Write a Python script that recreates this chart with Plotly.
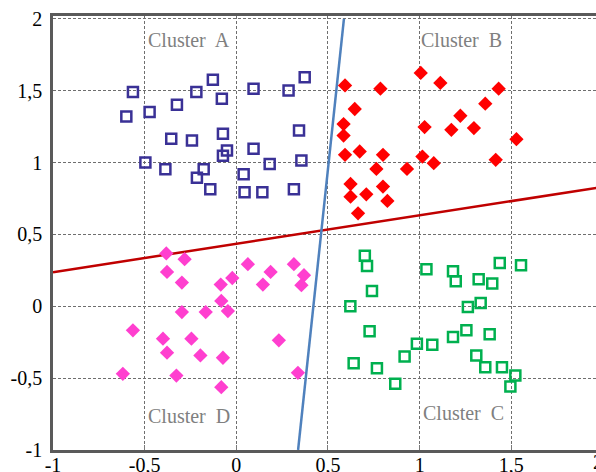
import plotly.graph_objects as go

# Cluster A (open squares, blue)
a_x = [-0.564, -0.600, -0.473, -0.324, -0.218, -0.128, -0.079, 0.094, 0.285, 0.373,
       -0.355, -0.242, -0.073, -0.051, -0.073, 0.094, 0.342, 0.355, 0.182, -0.496,
       -0.387, -0.178, -0.215, -0.142, 0.040, 0.045, 0.142, 0.314]
a_y = [1.491, 1.321, 1.352, 1.403, 1.491, 1.577, 1.445, 1.514, 1.502, 1.593,
       1.165, 1.154, 1.200, 1.084, 1.047, 1.096, 1.223, 1.014, 0.991, 1.000,
       0.954, 0.954, 0.895, 0.814, 0.919, 0.793, 0.793, 0.814]

# Cluster B (filled diamonds, red)
b_x = [0.593, 0.786, 1.006, 1.113, 1.431, 0.646, 1.358, 1.222, 0.585, 0.585,
       1.027, 1.173, 1.296, 1.528, 0.593, 0.673, 0.800, 1.015, 1.077, 1.415,
       0.764, 0.931, 0.623, 0.800, 0.623, 0.709, 0.824, 0.664]
b_y = [1.537, 1.514, 1.624, 1.554, 1.514, 1.373, 1.410, 1.326, 1.268, 1.188,
       1.247, 1.228, 1.240, 1.163, 1.054, 1.077, 1.054, 1.042, 0.996, 1.019,
       0.956, 0.956, 0.851, 0.833, 0.763, 0.779, 0.733, 0.647]

# Cluster C (open squares, green)
c_x = [0.701, 0.713, 1.037, 1.182, 1.197, 1.322, 1.396, 1.437, 1.553, 0.740,
       0.622, 1.263, 1.333, 0.727, 1.255, 1.182, 1.382, 0.985, 1.069, 0.918,
       1.309, 0.640, 0.767, 1.358, 1.449, 1.522, 0.867, 1.495]
c_y = [0.351, 0.281, 0.258, 0.244, 0.174, 0.188, 0.158, 0.302, 0.286, 0.107,
       0.000, -0.005, 0.023, -0.174, -0.167, -0.214, -0.195, -0.260, -0.267, -0.349,
       -0.342, -0.396, -0.431, -0.424, -0.424, -0.482, -0.539, -0.558]

# Cluster D (filled diamonds, pink)
d_x = [-0.382, -0.282, -0.378, -0.297, 0.063, 0.187, 0.314, 0.369, 0.355, 0.145,
       -0.022, -0.085, -0.082, -0.046, -0.297, -0.167, -0.564, -0.400, -0.245, 0.232,
       -0.378, -0.196, -0.073, -0.619, -0.327, 0.336, -0.082]
d_y = [0.368, 0.328, 0.239, 0.165, 0.293, 0.239, 0.293, 0.216, 0.147, 0.151,
       0.197, 0.151, 0.037, -0.033, -0.040, -0.040, -0.167, -0.225, -0.225, -0.237,
       -0.323, -0.342, -0.358, -0.470, -0.482, -0.463, -0.563]

# Separating lines (end points)
red_x = [-1.0, 2.0]
red_y = [0.237, 0.831]
blue_x = [0.337, 0.587]
blue_y = [-1.0, 2.0]

# Cluster labels
lab_text = ["Cluster\u00a0 A", "Cluster\u00a0 B", "Cluster\u00a0 C", "Cluster\u00a0 D"]
lab_x = [-0.26, 1.23, 1.237, -0.26]
lab_y = [1.85, 1.85, -0.74, -0.76]

# Ticks
x_ticks = [-1, -0.5, 0, 0.5, 1, 1.5]
x_ticktext = ["-1", "-0,5", "0", "0,5", "1", "1,5"]
y_ticks = [-1, -0.5, 0, 0.5, 1, 1.5, 2]
y_ticktext = ["-1", "-0,5", "0", "0,5", "1", "1,5", "2"]

SERIF = "Liberation Serif"

fig = go.Figure()
fig.add_trace(go.Scatter(x=red_x, y=red_y, mode="lines",
                         line=dict(color="#c00000", width=2.5)))
fig.add_trace(go.Scatter(x=blue_x, y=blue_y, mode="lines",
                         line=dict(color="#4f81bd", width=2.5)))
fig.add_trace(go.Scatter(x=a_x, y=a_y, mode="markers",
                         marker=dict(symbol="square-open", size=10, color="#3a3196",
                                     line=dict(width=2.5, color="#3a3196"))))
fig.add_trace(go.Scatter(x=c_x, y=c_y, mode="markers",
                         marker=dict(symbol="square-open", size=10, color="#00b04f",
                                     line=dict(width=2.5, color="#00b04f"))))
fig.add_trace(go.Scatter(x=b_x, y=b_y, mode="markers",
                         marker=dict(symbol="diamond", size=11, color="#ff0000",
                                     line=dict(width=0))))
fig.add_trace(go.Scatter(x=d_x, y=d_y, mode="markers",
                         marker=dict(symbol="diamond", size=11, color="#ff3fcf",
                                     line=dict(width=0))))

for t, x, y in zip(lab_text, lab_x, lab_y):
    fig.add_annotation(x=x, y=y, text=t, showarrow=False,
                       font=dict(family=SERIF, size=20, color="#808080"))

# x tick label "2" lies at the visible right edge (mostly cut off, as in the reference)
fig.add_annotation(xref="paper", yref="paper", x=1.0, y=0,
                   yanchor="top", xanchor="left", xshift=-5, yshift=1, text="2",
                   showarrow=False, font=dict(family=SERIF, size=20, color="black"))

fig.update_layout(
    width=596, height=472,
    margin=dict(l=53, r=0, t=16, b=22),
    paper_bgcolor="white", plot_bgcolor="white",
    showlegend=False,
    xaxis=dict(range=[-1, 1.962], tickvals=x_ticks, ticktext=x_ticktext,
               showline=True, linewidth=2.5, linecolor="#5a5a5a", mirror=True,
               showgrid=True, gridcolor="#6e6e6e", gridwidth=1.3, griddash="3px,2px",
               zeroline=False, ticks="inside", ticklen=5, tickcolor="#7a7a7a",
               ticklabelstandoff=-5,
               tickfont=dict(family=SERIF, size=20, color="black"),
               automargin=False),
    yaxis=dict(range=[-1, 2.02], tickvals=y_ticks, ticktext=y_ticktext,
               showline=True, linewidth=2.5, linecolor="#5a5a5a",
               showgrid=True, gridcolor="#6e6e6e", gridwidth=1.3, griddash="3px,2px",
               zeroline=False, ticks="", ticklabelstandoff=4,
               tickfont=dict(family=SERIF, size=20, color="black"),
               automargin=False),
)

fig.write_html("out.html", config={"displayModeBar": False},
               post_script="document.body.style.margin='0';document.body.style.overflow='hidden';")
